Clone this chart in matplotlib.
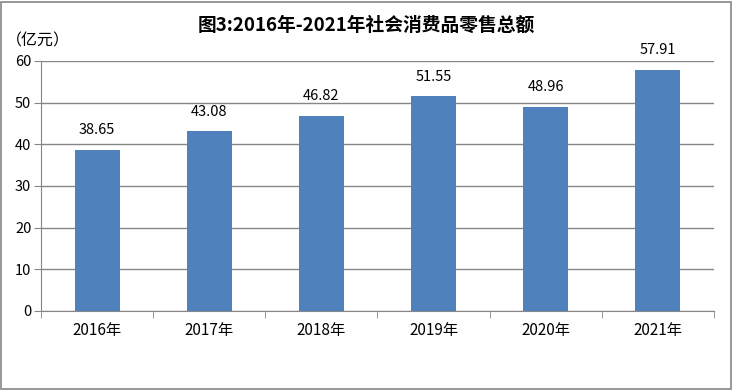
import matplotlib.pyplot as plt
from matplotlib.patches import Rectangle

plt.rcParams['font.family'] = ['Noto Sans CJK SC', 'DejaVu Sans']

years = ['2016年', '2017年', '2018年', '2019年', '2020年', '2021年']
values = [38.65, 43.08, 46.82, 51.55, 48.96, 57.91]
yticks = [0, 10, 20, 30, 40, 50, 60]

fig = plt.figure(figsize=(7.33, 3.9), dpi=100)
ax = fig.add_axes([0.056, 0.2026, 0.918, 0.641])

x = list(range(len(years)))
ax.bar(x, values, width=0.4, color='#4F81BD', zorder=3)
for xi, v in zip(x, values):
    ax.text(xi, v + 3, f'{v:.2f}', ha='center', va='bottom', fontsize=10.5)

ax.set_xlim(-0.5, len(years) - 0.5)
ax.set_ylim(0, 60)
ax.set_yticks(yticks)
ax.set_yticklabels([str(t) for t in yticks], fontsize=10.5)
ax.set_xticks(x)
ax.set_xticklabels(years, fontsize=11)
ax.set_xticks([i - 0.5 for i in range(len(years) + 1)], minor=True)
ax.tick_params(axis='x', which='major', length=0, pad=8)
ax.tick_params(axis='x', which='minor', length=5, color='#868686')
ax.tick_params(axis='y', length=5, color='#868686', pad=2)
ax.grid(axis='y', color='#868686', linewidth=1, zorder=0)
for s in ['top', 'right']:
    ax.spines[s].set_visible(False)
for s in ['left', 'bottom']:
    ax.spines[s].set_color('#868686')

fig.text(0.5, 0.935, '图3:2016年-2021年社会消费品零售总额', ha='center', va='center',
         fontsize=13.5, fontweight='bold')
fig.text(0.008, 0.895, '（亿元）', ha='left', va='center', fontsize=11.5)

fig.patches.append(Rectangle((0.002, 0.003), 0.995, 0.992, transform=fig.transFigure,
                             fill=False, edgecolor='#868686', linewidth=1.2))

fig.savefig('out.png', dpi=100)
